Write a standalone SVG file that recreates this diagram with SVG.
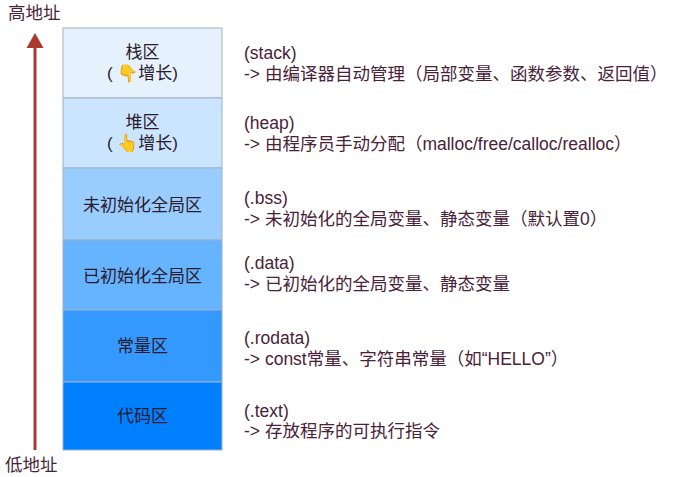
<svg xmlns="http://www.w3.org/2000/svg" width="677" height="477" viewBox="0 0 677 477">
<style>
.t{font-family:"Liberation Sans","Noto Sans CJK SC",sans-serif;font-size:17.5px;fill:#4a2238}
.b{font-family:"Liberation Sans","Noto Sans CJK SC",sans-serif;font-size:17px;fill:#2a1a2a;text-anchor:middle}
.box{stroke:#9fb2c6;stroke-width:1}
</style>
<rect width="677" height="477" fill="#ffffff"/>
<g id="connectors">
<line x1="35" y1="46" x2="35" y2="450" stroke="#a93a2c" stroke-width="3"/>
<polygon points="35,33 26.5,48 43.5,48" fill="#a93a2c"/>
</g>
<g id="label-high"><text class="t" x="8" y="19">高地址</text></g>
<g id="label-low"><text class="t" x="5" y="471">低地址</text></g>
<g id="stack">
<rect class="box" x="63" y="28" width="159" height="70" fill="#e5f2fe"/>
<text class="b" x="142.5" y="58">栈区</text>
<text class="b" x="142.5" y="79">( 👇增长)</text>
</g>
<g id="heap">
<rect class="box" x="63" y="98" width="159" height="70" fill="#cce5ff"/>
<text class="b" x="142.5" y="128">堆区</text>
<text class="b" x="142.5" y="149">( 👆增长)</text>
</g>
<g id="bss">
<rect class="box" x="63" y="168" width="159" height="72" fill="#99ccff"/>
<text class="b" x="142.5" y="211">未初始化全局区</text>
</g>
<g id="data">
<rect class="box" x="63" y="240" width="159" height="70" fill="#66b3ff"/>
<text class="b" x="142.5" y="282">已初始化全局区</text>
</g>
<g id="rodata">
<rect class="box" x="63" y="310" width="159" height="72" fill="#3399ff"/>
<text class="b" x="142.5" y="352">常量区</text>
</g>
<g id="text">
<rect class="box" x="63" y="382" width="159" height="68" fill="#0080ff"/>
<text class="b" x="142.5" y="422">代码区</text>
</g>
<g id="desc-stack">
<text class="t" x="244" y="59">(stack)</text>
<text class="t" x="244" y="80">-&gt; 由编译器自动管理（局部变量、函数参数、返回值）</text>
</g>
<g id="desc-heap">
<text class="t" x="244" y="129">(heap)</text>
<text class="t" x="244" y="150">-&gt; 由程序员手动分配（malloc/free/calloc/realloc）</text>
</g>
<g id="desc-bss">
<text class="t" x="244" y="204">(.bss)</text>
<text class="t" x="244" y="225">-&gt; 未初始化的全局变量、静态变量（默认置0）</text>
</g>
<g id="desc-data">
<text class="t" x="244" y="269">(.data)</text>
<text class="t" x="244" y="290">-&gt; 已初始化的全局变量、静态变量</text>
</g>
<g id="desc-rodata">
<text class="t" x="244" y="344">(.rodata)</text>
<text class="t" x="244" y="365">-&gt; const常量、字符串常量（如“HELLO”）</text>
</g>
<g id="desc-text">
<text class="t" x="244" y="417">(.text)</text>
<text class="t" x="244" y="437">-&gt; 存放程序的可执行指令</text>
</g>
</svg>
